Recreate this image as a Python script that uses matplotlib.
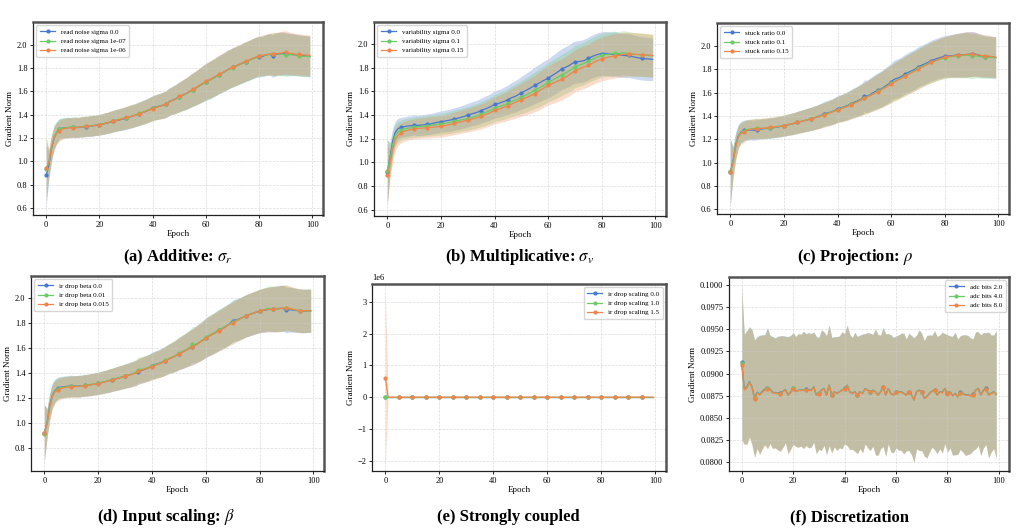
import numpy as np
import matplotlib
matplotlib.use("Agg")
import matplotlib.pyplot as plt
from matplotlib.ticker import MultipleLocator

plt.rcParams['font.family'] = ['Liberation Serif', 'DejaVu Serif']
plt.rcParams['mathtext.fontset'] = 'stix'

epochs = np.arange(100)
colors = ['#4878d0', '#6acc64', '#ee854a']

# ---------------- (a) additive: read noise sigma ----------------
a_labels = ['read noise sigma 0.0', 'read noise sigma 1e-07', 'read noise sigma 1e-06']
a_sigma0 = [0.880, 0.965, 1.110, 1.205, 1.250, 1.280, 1.284, 1.287, 1.289, 1.290,
            1.292, 1.291, 1.290, 1.293, 1.296, 1.298, 1.300, 1.303, 1.306, 1.309,
            1.313, 1.318, 1.323, 1.329, 1.335, 1.342, 1.348, 1.353, 1.358, 1.363,
            1.368, 1.377, 1.385, 1.392, 1.400, 1.408, 1.417, 1.425, 1.434, 1.444,
            1.458, 1.464, 1.470, 1.475, 1.481, 1.490, 1.508, 1.520, 1.529, 1.540,
            1.552, 1.564, 1.574, 1.586, 1.600, 1.614, 1.625, 1.639, 1.654, 1.667,
            1.680, 1.692, 1.703, 1.717, 1.730, 1.744, 1.755, 1.768, 1.782, 1.794,
            1.805, 1.814, 1.824, 1.834, 1.845, 1.855, 1.864, 1.874, 1.884, 1.893,
            1.898, 1.897, 1.906, 1.914, 1.918, 1.902, 1.913, 1.920, 1.922, 1.924,
            1.921, 1.918, 1.916, 1.914, 1.912, 1.910, 1.906, 1.904, 1.902, 1.899]
a_sigma1 = [0.930, 0.985, 1.120, 1.210, 1.250, 1.275, 1.283, 1.287, 1.290, 1.292,
            1.295, 1.294, 1.293, 1.296, 1.300, 1.302, 1.303, 1.305, 1.308, 1.311,
            1.315, 1.320, 1.325, 1.331, 1.338, 1.345, 1.351, 1.356, 1.362, 1.368,
            1.374, 1.380, 1.387, 1.394, 1.402, 1.411, 1.419, 1.427, 1.436, 1.446,
            1.455, 1.462, 1.469, 1.475, 1.482, 1.492, 1.506, 1.518, 1.527, 1.538,
            1.548, 1.561, 1.572, 1.584, 1.598, 1.611, 1.623, 1.637, 1.652, 1.665,
            1.678, 1.690, 1.702, 1.715, 1.728, 1.742, 1.754, 1.767, 1.781, 1.792,
            1.802, 1.812, 1.822, 1.833, 1.844, 1.854, 1.863, 1.873, 1.883, 1.892,
            1.899, 1.904, 1.909, 1.913, 1.917, 1.919, 1.920, 1.921, 1.920, 1.918,
            1.910, 1.913, 1.914, 1.912, 1.909, 1.906, 1.903, 1.901, 1.899, 1.896]
a_sigma2 = [0.940, 0.990, 1.115, 1.200, 1.240, 1.262, 1.276, 1.282, 1.285, 1.287,
            1.288, 1.289, 1.291, 1.294, 1.297, 1.301, 1.302, 1.304, 1.307, 1.310,
            1.314, 1.319, 1.324, 1.330, 1.337, 1.344, 1.350, 1.355, 1.361, 1.367,
            1.376, 1.381, 1.386, 1.392, 1.399, 1.407, 1.416, 1.424, 1.433, 1.443,
            1.452, 1.460, 1.467, 1.474, 1.481, 1.490, 1.505, 1.517, 1.528, 1.540,
            1.556, 1.566, 1.576, 1.588, 1.602, 1.616, 1.628, 1.642, 1.657, 1.671,
            1.690, 1.698, 1.708, 1.721, 1.734, 1.748, 1.759, 1.771, 1.785, 1.797,
            1.808, 1.817, 1.827, 1.837, 1.848, 1.858, 1.867, 1.877, 1.887, 1.896,
            1.905, 1.908, 1.912, 1.916, 1.919, 1.921, 1.922, 1.924, 1.928, 1.931,
            1.935, 1.928, 1.924, 1.921, 1.918, 1.916, 1.914, 1.912, 1.910, 1.908]
a_std = [0.265, 0.120, 0.110, 0.100, 0.092, 0.088, 0.087, 0.086, 0.087, 0.085,
         0.085, 0.087, 0.085, 0.086, 0.088, 0.086, 0.087, 0.089, 0.087, 0.088,
         0.089, 0.089, 0.091, 0.090, 0.092, 0.092, 0.094, 0.093, 0.095, 0.095,
         0.097, 0.097, 0.099, 0.098, 0.100, 0.101, 0.101, 0.103, 0.103, 0.105,
         0.106, 0.107, 0.109, 0.110, 0.113, 0.114, 0.117, 0.118, 0.122, 0.124,
         0.128, 0.130, 0.134, 0.136, 0.140, 0.142, 0.146, 0.148, 0.152, 0.154,
         0.157, 0.158, 0.161, 0.161, 0.163, 0.163, 0.165, 0.165, 0.167, 0.166,
         0.168, 0.167, 0.169, 0.168, 0.170, 0.169, 0.171, 0.170, 0.172, 0.171,
         0.173, 0.172, 0.175, 0.176, 0.179, 0.181, 0.184, 0.183, 0.186, 0.185,
         0.184, 0.182, 0.180, 0.178, 0.177, 0.176, 0.176, 0.175, 0.175, 0.174]

# ---------------- (b) multiplicative: variability sigma ----------------
b_labels = ['variability sigma 0.0', 'variability sigma 0.1', 'variability sigma 0.15']
b_var0 = [0.920, 1.040, 1.180, 1.255, 1.285, 1.295, 1.300, 1.305, 1.308, 1.310,
          1.318, 1.312, 1.314, 1.316, 1.318, 1.322, 1.325, 1.330, 1.335, 1.340,
          1.345, 1.348, 1.352, 1.356, 1.361, 1.368, 1.372, 1.378, 1.385, 1.392,
          1.400, 1.407, 1.414, 1.420, 1.428, 1.438, 1.447, 1.456, 1.466, 1.477,
          1.490, 1.496, 1.503, 1.511, 1.520, 1.530, 1.545, 1.552, 1.562, 1.575,
          1.588, 1.600, 1.612, 1.625, 1.638, 1.652, 1.664, 1.676, 1.690, 1.701,
          1.712, 1.728, 1.742, 1.757, 1.772, 1.790, 1.800, 1.810, 1.822, 1.838,
          1.848, 1.852, 1.855, 1.860, 1.868, 1.880, 1.892, 1.902, 1.911, 1.917,
          1.920, 1.922, 1.921, 1.918, 1.915, 1.918, 1.912, 1.908, 1.906, 1.903,
          1.905, 1.898, 1.893, 1.888, 1.884, 1.880, 1.878, 1.876, 1.874, 1.872]
b_var1 = [0.930, 1.020, 1.150, 1.230, 1.260, 1.272, 1.280, 1.286, 1.290, 1.293,
          1.298, 1.300, 1.302, 1.305, 1.307, 1.310, 1.312, 1.315, 1.318, 1.321,
          1.325, 1.328, 1.332, 1.336, 1.341, 1.347, 1.352, 1.357, 1.362, 1.366,
          1.371, 1.378, 1.385, 1.392, 1.399, 1.408, 1.417, 1.426, 1.436, 1.446,
          1.460, 1.467, 1.474, 1.481, 1.490, 1.500, 1.512, 1.520, 1.530, 1.540,
          1.552, 1.562, 1.573, 1.586, 1.598, 1.610, 1.622, 1.634, 1.648, 1.662,
          1.678, 1.690, 1.701, 1.713, 1.726, 1.740, 1.752, 1.764, 1.778, 1.792,
          1.810, 1.818, 1.826, 1.834, 1.845, 1.858, 1.868, 1.878, 1.888, 1.898,
          1.908, 1.912, 1.915, 1.918, 1.921, 1.922, 1.920, 1.924, 1.928, 1.926,
          1.920, 1.918, 1.915, 1.913, 1.911, 1.910, 1.908, 1.906, 1.904, 1.902]
b_var2 = [0.890, 0.980, 1.110, 1.195, 1.230, 1.248, 1.260, 1.268, 1.274, 1.278,
          1.282, 1.285, 1.288, 1.290, 1.292, 1.294, 1.296, 1.298, 1.300, 1.302,
          1.305, 1.309, 1.313, 1.318, 1.323, 1.330, 1.335, 1.340, 1.346, 1.352,
          1.357, 1.363, 1.369, 1.375, 1.382, 1.390, 1.398, 1.407, 1.417, 1.428,
          1.440, 1.447, 1.454, 1.462, 1.470, 1.480, 1.490, 1.500, 1.510, 1.520,
          1.530, 1.540, 1.550, 1.560, 1.571, 1.582, 1.595, 1.610, 1.625, 1.638,
          1.652, 1.662, 1.672, 1.682, 1.692, 1.702, 1.714, 1.728, 1.744, 1.760,
          1.776, 1.786, 1.795, 1.804, 1.812, 1.822, 1.834, 1.846, 1.858, 1.866,
          1.875, 1.882, 1.888, 1.894, 1.898, 1.902, 1.906, 1.910, 1.913, 1.915,
          1.917, 1.916, 1.915, 1.914, 1.913, 1.912, 1.910, 1.908, 1.906, 1.905]
b_std = [0.270, 0.130, 0.110, 0.095, 0.088, 0.085, 0.085, 0.084, 0.085, 0.085,
         0.085, 0.086, 0.086, 0.087, 0.087, 0.088, 0.088, 0.089, 0.089, 0.090,
         0.091, 0.091, 0.092, 0.093, 0.094, 0.095, 0.096, 0.097, 0.098, 0.099,
         0.100, 0.101, 0.102, 0.103, 0.104, 0.106, 0.107, 0.109, 0.110, 0.112,
         0.114, 0.116, 0.118, 0.120, 0.122, 0.125, 0.128, 0.131, 0.134, 0.137,
         0.140, 0.143, 0.146, 0.149, 0.152, 0.155, 0.158, 0.160, 0.162, 0.164,
         0.166, 0.168, 0.170, 0.172, 0.173, 0.174, 0.175, 0.176, 0.177, 0.178,
         0.178, 0.179, 0.179, 0.180, 0.180, 0.181, 0.182, 0.182, 0.183, 0.184,
         0.185, 0.186, 0.186, 0.187, 0.188, 0.188, 0.187, 0.187, 0.186, 0.186,
         0.185, 0.185, 0.184, 0.184, 0.183, 0.183, 0.182, 0.182, 0.181, 0.181]

# ---------------- (c) projection: stuck ratio ----------------
c_labels = ['stuck ratio 0.0', 'stuck ratio 0.1', 'stuck ratio 0.15']
c_stuck0 = [0.920, 1.010, 1.150, 1.230, 1.262, 1.276, 1.280, 1.281, 1.279, 1.278,
            1.282, 1.286, 1.290, 1.292, 1.294, 1.296, 1.299, 1.303, 1.307, 1.311,
            1.316, 1.321, 1.326, 1.331, 1.337, 1.344, 1.350, 1.356, 1.362, 1.368,
            1.374, 1.381, 1.389, 1.397, 1.406, 1.418, 1.425, 1.430, 1.437, 1.447,
            1.462, 1.468, 1.474, 1.482, 1.492, 1.505, 1.515, 1.524, 1.534, 1.545,
            1.572, 1.568, 1.580, 1.595, 1.608, 1.618, 1.628, 1.642, 1.658, 1.672,
            1.690, 1.712, 1.720, 1.728, 1.740, 1.756, 1.768, 1.780, 1.790, 1.802,
            1.818, 1.830, 1.840, 1.850, 1.862, 1.874, 1.882, 1.890, 1.898, 1.905,
            1.910, 1.912, 1.914, 1.917, 1.920, 1.921, 1.922, 1.924, 1.926, 1.928,
            1.930, 1.932, 1.925, 1.918, 1.912, 1.908, 1.906, 1.904, 1.902, 1.900]
c_stuck1 = [0.925, 1.000, 1.140, 1.225, 1.258, 1.272, 1.282, 1.286, 1.289, 1.292,
            1.295, 1.294, 1.293, 1.294, 1.296, 1.298, 1.301, 1.305, 1.309, 1.313,
            1.318, 1.323, 1.328, 1.333, 1.339, 1.345, 1.351, 1.357, 1.363, 1.369,
            1.375, 1.382, 1.389, 1.396, 1.404, 1.412, 1.420, 1.428, 1.436, 1.445,
            1.455, 1.463, 1.470, 1.478, 1.488, 1.498, 1.508, 1.518, 1.528, 1.540,
            1.552, 1.562, 1.574, 1.586, 1.598, 1.610, 1.622, 1.636, 1.650, 1.664,
            1.678, 1.692, 1.705, 1.716, 1.728, 1.742, 1.755, 1.768, 1.780, 1.792,
            1.806, 1.818, 1.829, 1.840, 1.850, 1.860, 1.868, 1.876, 1.884, 1.890,
            1.896, 1.902, 1.906, 1.910, 1.912, 1.914, 1.916, 1.918, 1.920, 1.918,
            1.910, 1.915, 1.912, 1.908, 1.905, 1.903, 1.902, 1.901, 1.900, 1.898]
c_stuck2 = [0.920, 0.990, 1.130, 1.215, 1.250, 1.262, 1.276, 1.283, 1.287, 1.290,
            1.292, 1.293, 1.294, 1.296, 1.298, 1.302, 1.304, 1.307, 1.310, 1.314,
            1.318, 1.323, 1.328, 1.333, 1.338, 1.344, 1.350, 1.356, 1.362, 1.368,
            1.374, 1.380, 1.387, 1.394, 1.401, 1.408, 1.416, 1.424, 1.433, 1.442,
            1.452, 1.460, 1.468, 1.476, 1.485, 1.495, 1.506, 1.516, 1.527, 1.538,
            1.550, 1.561, 1.572, 1.584, 1.596, 1.608, 1.620, 1.633, 1.646, 1.660,
            1.674, 1.688, 1.700, 1.712, 1.724, 1.738, 1.750, 1.762, 1.774, 1.786,
            1.798, 1.812, 1.824, 1.836, 1.848, 1.858, 1.868, 1.878, 1.888, 1.896,
            1.902, 1.907, 1.911, 1.914, 1.917, 1.919, 1.921, 1.923, 1.925, 1.927,
            1.928, 1.926, 1.923, 1.920, 1.917, 1.916, 1.914, 1.910, 1.906, 1.902]
c_std = [0.285, 0.130, 0.112, 0.098, 0.090, 0.087, 0.086, 0.086, 0.085, 0.086,
         0.086, 0.085, 0.087, 0.086, 0.087, 0.088, 0.087, 0.088, 0.089, 0.089,
         0.090, 0.091, 0.091, 0.093, 0.093, 0.095, 0.095, 0.097, 0.097, 0.099,
         0.099, 0.101, 0.101, 0.103, 0.104, 0.105, 0.106, 0.108, 0.109, 0.111,
         0.112, 0.114, 0.116, 0.118, 0.120, 0.122, 0.125, 0.127, 0.130, 0.133,
         0.136, 0.139, 0.142, 0.145, 0.148, 0.151, 0.153, 0.156, 0.158, 0.160,
         0.162, 0.163, 0.165, 0.166, 0.167, 0.168, 0.169, 0.170, 0.171, 0.171,
         0.172, 0.172, 0.173, 0.173, 0.174, 0.174, 0.175, 0.175, 0.176, 0.177,
         0.178, 0.179, 0.181, 0.183, 0.186, 0.188, 0.190, 0.192, 0.194, 0.193,
         0.191, 0.189, 0.186, 0.184, 0.182, 0.180, 0.179, 0.178, 0.177, 0.176]

# ---------------- (d) input scaling: ir drop beta ----------------
d_labels = ['ir drop beta 0.0', 'ir drop beta 0.01', 'ir drop beta 0.015']
d_beta0 = [0.920, 1.000, 1.140, 1.225, 1.262, 1.280, 1.286, 1.290, 1.293, 1.295,
           1.298, 1.296, 1.295, 1.296, 1.298, 1.301, 1.303, 1.306, 1.310, 1.314,
           1.318, 1.323, 1.328, 1.333, 1.339, 1.345, 1.351, 1.357, 1.363, 1.369,
           1.376, 1.382, 1.389, 1.395, 1.402, 1.412, 1.420, 1.428, 1.437, 1.446,
           1.460, 1.467, 1.474, 1.481, 1.490, 1.500, 1.512, 1.521, 1.530, 1.541,
           1.556, 1.566, 1.577, 1.589, 1.600, 1.612, 1.624, 1.638, 1.652, 1.666,
           1.682, 1.696, 1.708, 1.720, 1.733, 1.748, 1.758, 1.770, 1.784, 1.798,
           1.820, 1.826, 1.832, 1.840, 1.850, 1.860, 1.868, 1.876, 1.884, 1.891,
           1.898, 1.902, 1.906, 1.910, 1.913, 1.915, 1.917, 1.919, 1.920, 1.918,
           1.905, 1.910, 1.908, 1.905, 1.902, 1.900, 1.898, 1.900, 1.901, 1.900]
d_beta1 = [0.915, 0.995, 1.135, 1.220, 1.258, 1.276, 1.283, 1.287, 1.290, 1.292,
           1.294, 1.294, 1.294, 1.296, 1.299, 1.303, 1.305, 1.308, 1.312, 1.316,
           1.320, 1.325, 1.330, 1.335, 1.341, 1.347, 1.353, 1.359, 1.365, 1.371,
           1.377, 1.383, 1.390, 1.398, 1.410, 1.428, 1.430, 1.434, 1.440, 1.448,
           1.456, 1.464, 1.472, 1.480, 1.490, 1.502, 1.514, 1.524, 1.534, 1.546,
           1.560, 1.570, 1.582, 1.594, 1.608, 1.630, 1.630, 1.640, 1.654, 1.668,
           1.690, 1.700, 1.711, 1.723, 1.736, 1.750, 1.760, 1.772, 1.785, 1.797,
           1.810, 1.820, 1.830, 1.840, 1.850, 1.860, 1.868, 1.876, 1.884, 1.892,
           1.900, 1.906, 1.912, 1.920, 1.919, 1.916, 1.915, 1.917, 1.920, 1.925,
           1.922, 1.918, 1.913, 1.909, 1.905, 1.902, 1.900, 1.900, 1.901, 1.902]
d_beta2 = [0.920, 0.990, 1.125, 1.212, 1.250, 1.265, 1.276, 1.282, 1.286, 1.288,
           1.290, 1.291, 1.292, 1.294, 1.297, 1.300, 1.302, 1.305, 1.309, 1.313,
           1.316, 1.321, 1.326, 1.332, 1.338, 1.344, 1.350, 1.356, 1.362, 1.368,
           1.374, 1.380, 1.386, 1.393, 1.400, 1.415, 1.424, 1.430, 1.436, 1.444,
           1.452, 1.460, 1.468, 1.476, 1.486, 1.498, 1.510, 1.520, 1.530, 1.542,
           1.554, 1.565, 1.576, 1.588, 1.600, 1.610, 1.622, 1.636, 1.650, 1.664,
           1.680, 1.694, 1.705, 1.717, 1.730, 1.740, 1.752, 1.765, 1.780, 1.792,
           1.800, 1.814, 1.826, 1.838, 1.850, 1.860, 1.868, 1.876, 1.884, 1.892,
           1.900, 1.904, 1.908, 1.911, 1.913, 1.912, 1.914, 1.916, 1.920, 1.923,
           1.926, 1.920, 1.915, 1.910, 1.906, 1.903, 1.901, 1.900, 1.901, 1.902]
d_std = [0.230, 0.115, 0.105, 0.097, 0.090, 0.087, 0.086, 0.086, 0.085, 0.085,
         0.086, 0.085, 0.086, 0.087, 0.086, 0.088, 0.087, 0.088, 0.088, 0.089,
         0.089, 0.090, 0.091, 0.091, 0.093, 0.093, 0.094, 0.095, 0.096, 0.096,
         0.098, 0.098, 0.100, 0.100, 0.101, 0.102, 0.103, 0.104, 0.105, 0.106,
         0.107, 0.109, 0.110, 0.112, 0.114, 0.116, 0.118, 0.120, 0.123, 0.126,
         0.129, 0.132, 0.135, 0.138, 0.141, 0.144, 0.147, 0.150, 0.153, 0.155,
         0.157, 0.159, 0.161, 0.162, 0.163, 0.164, 0.165, 0.166, 0.167, 0.167,
         0.168, 0.168, 0.169, 0.169, 0.170, 0.170, 0.171, 0.171, 0.172, 0.173,
         0.174, 0.175, 0.177, 0.178, 0.180, 0.182, 0.183, 0.184, 0.185, 0.184,
         0.182, 0.180, 0.178, 0.177, 0.176, 0.175, 0.175, 0.174, 0.174, 0.173]

# ---------------- (e) strongly coupled: ir drop scaling ----------------
e_labels = ['ir drop scaling 0.0', 'ir drop scaling 1.0', 'ir drop scaling 1.5']
e_scale0 = d_beta0
e_scale1 = d_beta0
e_scale2 = [6.2e5] + d_beta2[1:]
e_std0 = d_std
e_std2 = [2.68e6] + d_std[1:]

# ---------------- (f) discretization: adc bits ----------------
f_labels = ['adc bits 2.0', 'adc bits 4.0', 'adc bits 8.0']
f_bits2 = [0.09130, 0.08830, 0.08850, 0.08910, 0.08850, 0.08725, 0.08790, 0.08765, 0.08800, 0.08825,
           0.08840, 0.08825, 0.08790, 0.08785, 0.08782, 0.08778, 0.08800, 0.08822, 0.08760, 0.08790,
           0.08835, 0.08800, 0.08812, 0.08815, 0.08818, 0.08822, 0.08815, 0.08812, 0.08850, 0.08760,
           0.08778, 0.08815, 0.08832, 0.08760, 0.08870, 0.08760, 0.08796, 0.08778, 0.08796, 0.08814,
           0.08832, 0.08870, 0.08796, 0.08778, 0.08796, 0.08760, 0.08796, 0.08778, 0.08832, 0.08814,
           0.08796, 0.08814, 0.08796, 0.08760, 0.08796, 0.08850, 0.08760, 0.08832, 0.08778, 0.08760,
           0.08796, 0.08788, 0.08796, 0.08778, 0.08760, 0.08796, 0.08760, 0.08705, 0.08796, 0.08814,
           0.08796, 0.08723, 0.08741, 0.08778, 0.08803, 0.08814, 0.08760, 0.08796, 0.08788, 0.08832,
           0.08778, 0.08796, 0.08752, 0.08778, 0.08741, 0.08788, 0.08778, 0.08760, 0.08760, 0.08752,
           0.08766, 0.08814, 0.08832, 0.08760, 0.08814, 0.08832, 0.08760, 0.08778, 0.08796, 0.08766]
f_bits4 = [0.09115, 0.08822, 0.08845, 0.08905, 0.08846, 0.08720, 0.08785, 0.08762, 0.08795, 0.08818,
           0.08834, 0.08820, 0.08786, 0.08782, 0.08780, 0.08775, 0.08797, 0.08820, 0.08757, 0.08788,
           0.08832, 0.08798, 0.08810, 0.08813, 0.08816, 0.08820, 0.08813, 0.08810, 0.08848, 0.08758,
           0.08776, 0.08813, 0.08830, 0.08758, 0.08868, 0.08758, 0.08794, 0.08776, 0.08794, 0.08812,
           0.08830, 0.08868, 0.08794, 0.08776, 0.08794, 0.08758, 0.08794, 0.08776, 0.08830, 0.08812,
           0.08794, 0.08812, 0.08794, 0.08758, 0.08794, 0.08848, 0.08758, 0.08830, 0.08776, 0.08758,
           0.08794, 0.08786, 0.08794, 0.08776, 0.08758, 0.08794, 0.08758, 0.08703, 0.08794, 0.08812,
           0.08794, 0.08721, 0.08739, 0.08776, 0.08801, 0.08812, 0.08758, 0.08794, 0.08786, 0.08830,
           0.08776, 0.08794, 0.08750, 0.08776, 0.08739, 0.08786, 0.08776, 0.08758, 0.08758, 0.08750,
           0.08764, 0.08812, 0.08830, 0.08758, 0.08812, 0.08830, 0.08758, 0.08776, 0.08794, 0.08764]
f_bits8 = [0.09100, 0.08815, 0.08840, 0.08900, 0.08842, 0.08715, 0.08780, 0.08758, 0.08790, 0.08812,
           0.08828, 0.08816, 0.08782, 0.08780, 0.08778, 0.08772, 0.08794, 0.08818, 0.08754, 0.08786,
           0.08830, 0.08796, 0.08808, 0.08811, 0.08814, 0.08818, 0.08811, 0.08808, 0.08846, 0.08756,
           0.08774, 0.08811, 0.08828, 0.08756, 0.08866, 0.08756, 0.08792, 0.08774, 0.08792, 0.08810,
           0.08828, 0.08866, 0.08792, 0.08774, 0.08792, 0.08756, 0.08792, 0.08774, 0.08828, 0.08810,
           0.08792, 0.08810, 0.08792, 0.08756, 0.08792, 0.08846, 0.08756, 0.08828, 0.08774, 0.08756,
           0.08792, 0.08784, 0.08792, 0.08774, 0.08756, 0.08792, 0.08756, 0.08701, 0.08792, 0.08810,
           0.08792, 0.08719, 0.08737, 0.08774, 0.08799, 0.08810, 0.08756, 0.08792, 0.08784, 0.08828,
           0.08774, 0.08792, 0.08748, 0.08774, 0.08737, 0.08784, 0.08774, 0.08756, 0.08756, 0.08748,
           0.08762, 0.08810, 0.08828, 0.08756, 0.08810, 0.08828, 0.08756, 0.08774, 0.08792, 0.08762]
f_std = [0.0086, 0.0062, 0.0064, 0.0062, 0.0065, 0.0066, 0.0063, 0.0067, 0.0064, 0.0062,
         0.0068, 0.0061, 0.0063, 0.0062, 0.0064, 0.0065, 0.0063, 0.0060, 0.0066, 0.0064,
         0.0063, 0.0062, 0.0064, 0.0063, 0.0066, 0.0063, 0.0065, 0.0064, 0.0062, 0.0066,
         0.0063, 0.0068, 0.0064, 0.0067, 0.0068, 0.0065, 0.0062, 0.0064, 0.0063, 0.0066,
         0.0062, 0.0068, 0.0065, 0.0063, 0.0067, 0.0066, 0.0064, 0.0067, 0.0062, 0.0065,
         0.0066, 0.0063, 0.0071, 0.0068, 0.0064, 0.0067, 0.0069, 0.0062, 0.0066, 0.0065,
         0.0063, 0.0065, 0.0066, 0.0068, 0.0063, 0.0066, 0.0067, 0.0070, 0.0064, 0.0068,
         0.0066, 0.0065, 0.0069, 0.0066, 0.0063, 0.0067, 0.0066, 0.0064, 0.0068, 0.0062,
         0.0066, 0.0063, 0.0067, 0.0069, 0.0065, 0.0064, 0.0066, 0.0068, 0.0067, 0.0065,
         0.0063, 0.0066, 0.0064, 0.0068, 0.0065, 0.0063, 0.0071, 0.0066, 0.0064, 0.0072]

captions = [r'(a) Additive: $\sigma_r$', r'(b) Multiplicative: $\sigma_v$',
            r'(c) Projection: $\rho$', r'(d) Input scaling: $\beta$',
            '(e) Strongly coupled', '(f) Discretization']


def draw_panel(ax, means, stds, labels, loc):
    # shaded band (mean +- std) then the mean line with a marker every 5 epochs
    for m, s, lab, c in zip(means, stds, labels, colors):
        m = np.array(m, dtype=float)
        s = np.array(s, dtype=float)
        ax.fill_between(epochs, m - s, m + s, color=c, alpha=0.28, linewidth=0)
        ax.plot(epochs, m, color=c, lw=0.9, marker='o', ms=2.0, markevery=5,
                label=lab, zorder=3)
    ax.set_xlabel('Epoch', fontsize=6.5, labelpad=1)
    ax.set_ylabel('Gradient Norm', fontsize=6.5, labelpad=2)
    ax.xaxis.set_major_locator(MultipleLocator(20))
    ax.tick_params(labelsize=6, length=2.5, width=0.6, pad=1.5)
    ax.grid(True, color='#cccccc', lw=0.5, ls='--', alpha=0.7)
    for side in ['top', 'right']:
        ax.spines[side].set_color('#555555')
        ax.spines[side].set_linewidth(1.8)
    for side in ['left', 'bottom']:
        ax.spines[side].set_color('#222222')
        ax.spines[side].set_linewidth(0.9)
    ax.legend(loc=loc, fontsize=5, framealpha=0.8, handlelength=2.2,
              borderpad=0.5, labelspacing=0.5)


W, H = 1016, 531
fig = plt.figure(figsize=(W / 100, H / 100), dpi=100)


def px_axes(left, top, right, bottom):
    return fig.add_axes([left / W, 1 - bottom / H, (right - left) / W, (bottom - top) / H])


ax_a = px_axes(33, 22, 323, 215)
ax_b = px_axes(374, 22, 666, 216)
ax_c = px_axes(717, 23, 1009, 214)
ax_d = px_axes(31, 276, 324, 471)
ax_e = px_axes(372, 284, 666, 471)
ax_f = px_axes(729, 277, 1009, 471)

draw_panel(ax_a, [a_sigma0, a_sigma1, a_sigma2], [a_std] * 3, a_labels, 'upper left')
draw_panel(ax_b, [b_var0, b_var1, b_var2], [b_std] * 3, b_labels, 'upper left')
draw_panel(ax_c, [c_stuck0, c_stuck1, c_stuck2], [c_std] * 3, c_labels, 'upper left')
draw_panel(ax_d, [d_beta0, d_beta1, d_beta2], [d_std] * 3, d_labels, 'upper left')
draw_panel(ax_e, [e_scale0, e_scale1, e_scale2], [e_std0, e_std0, e_std2], e_labels, 'upper right')
draw_panel(ax_f, [f_bits2, f_bits4, f_bits8], [f_std] * 3, f_labels, 'upper right')

for ax in [ax_a, ax_b, ax_c, ax_d]:
    ax.yaxis.set_major_locator(MultipleLocator(0.2))
ax_e.yaxis.set_major_locator(MultipleLocator(1e6))
ax_f.yaxis.set_major_locator(MultipleLocator(0.0025))
ax_e.yaxis.get_offset_text().set_fontsize(6)

# sub-captions under each panel
cap_pos = [(178, 257), (520, 257), (855, 257), (166, 517), (508, 517), (849, 517)]
for (cx, cy), cap in zip(cap_pos, captions):
    fig.text(cx / W, 1 - cy / H, cap, ha='center', va='center',
             fontsize=12, fontweight='bold')

fig.savefig('out.png', dpi=100)
